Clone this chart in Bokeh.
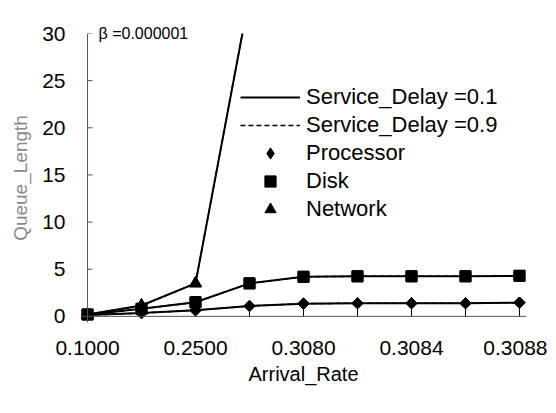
import numpy as np
from bokeh.plotting import figure
from bokeh.models import (Range1d, LinearAxis, FixedTicker, Legend, LegendItem,
                          Span, Title)
from bokeh.embed import file_html
from bokeh.resources import INLINE

# ---- data ----
categories = ["0.1000", "0.2000", "0.2500", "0.3000", "0.3080",
              "0.3082", "0.3084", "0.3086", "0.3088"]
tick_positions = [0, 2, 4, 6, 8]
y_ticks = [0, 5, 10, 15, 20, 25, 30]

processor_01 = [0.15, 0.35, 0.65, 1.1, 1.35, 1.4, 1.4, 1.4, 1.45]
disk_01 = [0.2, 0.8, 1.5, 3.5, 4.2, 4.25, 4.25, 4.25, 4.3]
network_01 = [0.2, 1.15, 3.5, 34.0]

processor_09 = [0.15, 0.35, 0.65, 1.1, 1.35, 1.4, 1.4, 1.4, 1.45]
disk_09 = [0.2, 0.8, 1.5, 3.5, 4.2, 4.25, 4.25, 4.25, 4.3]
network_09 = [0.2, 1.15, 3.5, 34.0]

x_all = list(range(len(categories)))
x_net = x_all[:len(network_01)]

FONT = "Liberation Sans"

p = figure(frame_width=446, frame_height=289,
           x_range=Range1d(-0.13, 8.13), y_range=Range1d(-0.65, 30),
           output_backend="svg", toolbar_location=None,
           x_axis_type=None, y_axis_type=None,
           min_border_left=80, min_border_right=21, min_border_top=33, min_border_bottom=83)
p.outline_line_color = None
p.xgrid.visible = False
p.ygrid.visible = False
p.background_fill_color = "white"
p.border_fill_color = "white"

# axes (labels from the library's axes; axis lines drawn at 0 with spans)
xaxis = LinearAxis()
xaxis.ticker = FixedTicker(ticks=tick_positions)
xaxis.major_label_overrides = {i: categories[i] for i in tick_positions}
xaxis.major_tick_in = 0
xaxis.major_tick_out = 0
xaxis.minor_tick_line_color = None
xaxis.axis_line_color = None
xaxis.major_label_standoff = 18
xaxis.major_label_text_font = FONT
xaxis.major_label_text_font_size = "21px"
xaxis.major_label_text_color = "black"
xaxis.axis_label = "Arrival_Rate"
xaxis.axis_label_text_font = FONT
xaxis.axis_label_text_font_size = "20px"
xaxis.axis_label_text_font_style = "normal"
xaxis.axis_label_text_color = "black"
xaxis.axis_label_standoff = 5
p.add_layout(xaxis, "below")

yaxis = LinearAxis()
yaxis.ticker = FixedTicker(ticks=y_ticks)
yaxis.major_tick_in = 0
yaxis.major_tick_out = 0
yaxis.minor_tick_line_color = None
yaxis.axis_line_color = None
yaxis.major_label_standoff = 15
yaxis.major_label_text_font = FONT
yaxis.major_label_text_font_size = "21px"
yaxis.major_label_text_color = "black"
yaxis.axis_label = "Queue_Length"
yaxis.axis_label_text_font = FONT
yaxis.axis_label_text_font_size = "19px"
yaxis.axis_label_text_font_style = "normal"
yaxis.axis_label_text_color = "#8a8a8a"
yaxis.axis_label_standoff = 8
p.add_layout(yaxis, "left")

p.add_layout(Span(location=0, dimension="height", line_color="#555555", line_width=1))
p.add_layout(Span(location=0, dimension="width", line_color="#555555", line_width=1))

# small inward ticks on the value axis
p.ray(x=[0] * len(y_ticks), y=y_ticks, length=5, length_units="screen", angle=0,
      line_color="#555555", line_width=1)

# drop lines from processor markers to the axis
p.segment(x0=x_all, y0=[0] * len(x_all), x1=x_all, y1=processor_01,
          line_color="black", line_width=1)

lw = 2
# Service_Delay = 0.1 (solid)
l_p1 = p.line(x_all, processor_01, line_color="black", line_width=lw)
l_d1 = p.line(x_all, disk_01, line_color="black", line_width=lw)
l_n1 = p.line(x_net, network_01, line_color="black", line_width=lw)
# Service_Delay = 0.9 (dashed)
l_p9 = p.line(x_all, processor_09, line_color="black", line_width=1.5, line_dash="5 3")
l_d9 = p.line(x_all, disk_09, line_color="black", line_width=1.5, line_dash="5 3")
l_n9 = p.line(x_net, network_09, line_color="black", line_width=1.5, line_dash="5 3")

# markers
p.scatter(x_all, processor_01, marker="square", angle=np.pi / 4, size=8,
          fill_color="black", line_color="black")
p.scatter(x_all, processor_09, marker="square", angle=np.pi / 4, size=8,
          fill_color="black", line_color="black")
m_p = p.scatter(x_all, processor_01, marker="diamond", size=10,
                fill_color="black", line_color="black")
m_d = p.scatter(x_all, disk_01, marker="square", size=11, fill_color="black", line_color="black")
p.scatter(x_all, disk_09, marker="square", size=11, fill_color="black", line_color="black")
m_n = p.scatter(x_net, network_01, marker="triangle", size=12, fill_color="black", line_color="black")
p.scatter(x_net, network_09, marker="triangle", size=12, fill_color="black", line_color="black")

legend = Legend(items=[
    LegendItem(label="Service_Delay =0.1", renderers=[l_p1]),
    LegendItem(label="Service_Delay =0.9", renderers=[l_p9]),
    LegendItem(label="Processor", renderers=[m_p]),
    LegendItem(label="Disk", renderers=[m_d]),
    LegendItem(label="Network", renderers=[m_n]),
], location=(160, 99))
legend.padding = 0
legend.margin = 0
legend.spacing = 0
legend.border_line_color = None
legend.background_fill_alpha = 0
legend.glyph_width = 60
legend.glyph_height = 28
legend.label_height = 28
legend.label_standoff = 6
legend.label_text_font = FONT
legend.label_text_font_size = "22px"
legend.label_text_color = "black"
p.add_layout(legend, "center")

beta = Title(text="β  =0.000001", align="left", offset=18, standoff=-17,
             text_font=FONT, text_font_size="16px", text_font_style="normal",
             text_color="black")
p.add_layout(beta, "above")

open("out.html", "w").write(file_html(p, INLINE))
